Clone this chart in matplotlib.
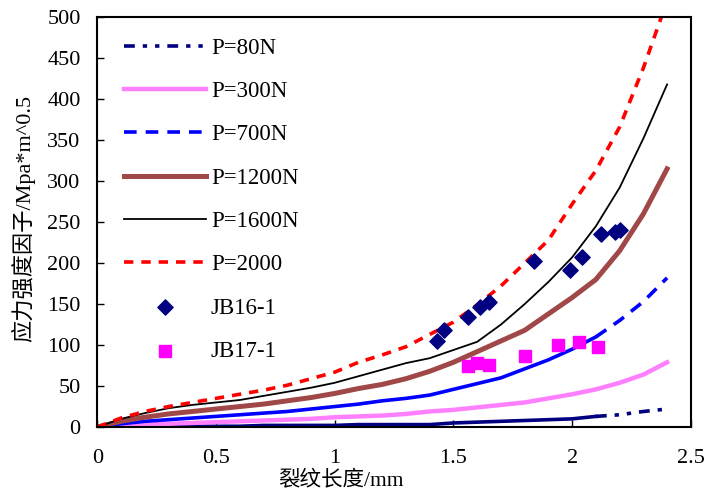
import matplotlib.pyplot as plt
import numpy as np

plt.rcParams['font.family'] = ['Liberation Serif', 'Noto Sans CJK SC']

# crack length (mm)
x = [0, 0.1, 0.2, 0.3, 0.4, 0.5, 0.6, 0.7, 0.8, 0.9, 1.0, 1.1, 1.2,
     1.3, 1.4, 1.5, 1.6, 1.7, 1.8, 1.9, 2.0, 2.1, 2.2, 2.3, 2.4]

# stress intensity factor for each load
k_80 = [0, 0, 0, 1, 1, 1, 1, 2, 2, 2, 2, 3, 3, 3, 3, 5, 6, 7, 8, 9, 10, 13, 15, 19, 22]
k_300 = [0, 2, 3, 4, 5, 6, 7, 8, 9, 10, 12, 13, 14, 16, 19, 21, 24, 27, 30, 35, 40, 46, 54, 64, 79]
k_700 = [0, 4, 7, 9, 11, 13, 15, 17, 19, 22, 25, 28, 32, 35, 39, 46, 53, 60, 71, 82, 95, 110, 130, 153, 182]
k_1200 = [0, 7, 12, 16, 19, 22, 25, 28, 32, 36, 41, 47, 52, 59, 68, 79, 92, 105, 118, 138, 158, 180, 215, 260, 315]
k_1600 = [0, 10, 17, 23, 27, 30, 33, 38, 43, 48, 54, 62, 70, 78, 84, 94, 104, 125, 150, 177, 207, 245, 292, 352, 418]
k_2000 = [0, 11, 19, 25, 30, 35, 40, 45, 51, 59, 67, 79, 88, 98, 113, 128, 149, 172, 200, 228, 272, 313, 366, 438, 520]

# test points
jb16_x = [1.43, 1.46, 1.56, 1.61, 1.65, 1.84, 1.99, 2.04, 2.12, 2.18, 2.20]
jb16_y = [105, 118, 134, 147, 153, 202, 191, 208, 236, 238, 241]
jb17_x = [1.56, 1.60, 1.65, 1.80, 1.94, 2.03, 2.11]
jb17_y = [74, 78, 76, 87, 100, 104, 98]

fig = plt.figure(figsize=(7.1, 4.92), dpi=100)
ax = fig.add_axes([0.137, 0.132, 0.836, 0.833])

xa = np.array(x)
head = xa <= 2.1
tail = xa >= 2.1

navy_dash = (0, (3.0, 2.2, 1.2, 2.2, 1.2, 2.2))
ax.plot(xa[head], np.array(k_80)[head], color='#000080', lw=2.6, label='_nolegend_')
ax.plot(xa[tail], np.array(k_80)[tail], color='#000080', lw=2.6, ls=navy_dash, label='P=80N')
ax.plot(x, k_300, color='#FF80FF', lw=3.2, label='P=300N')
ax.plot(xa[head], np.array(k_700)[head], color='#0000FF', lw=2.6, label='_nolegend_')
ax.plot(xa[tail], np.array(k_700)[tail], color='#0000FF', lw=2.6, ls=(0, (3.5, 2.5)), label='P=700N')
ax.plot(x, k_1200, color='#A04848', lw=3.6, label='P=1200N')
ax.plot(x, k_1600, color='black', lw=1.3, label='P=1600N')
ax.plot(x, k_2000, color='#FF0000', lw=2.6, ls=(0, (2.6, 2.2)), label='P=2000')
ax.scatter(jb16_x, jb16_y, marker='D', s=60, color='#000080', zorder=5, label='JB16-1')
ax.scatter(jb17_x, jb17_y, marker='s', s=70, color='#FF00FF', zorder=5, label='JB17-1')

ax.set_xlim(0, 2.5)
ax.set_ylim(0, 500)
ax.set_xticks([0, 0.5, 1, 1.5, 2, 2.5])
ax.set_xticklabels(['0', '0.5', '1', '1.5', '2', '2.5'])
ax.set_yticks(range(0, 501, 50))
ax.tick_params(direction='in', length=5, width=1, labelsize=16)
ax.tick_params(axis='x', pad=16)
ax.tick_params(axis='y', pad=12)
for s in ax.spines.values():
    s.set_linewidth(1.5)

ax.set_xlabel('裂纹长度/mm', fontsize=15.5)
ax.xaxis.set_label_coords(0.41, -0.107)
ax.set_ylabel('应力强度因子/Mpa*m^0.5', fontsize=16)
ax.yaxis.set_label_coords(-0.105, 0.51)

ax.legend(loc='upper left', bbox_to_anchor=(0.01, 1.0), frameon=False, fontsize=16.5,
          handlelength=3.6, labelspacing=0.97, handletextpad=0.2, scatterpoints=1)

fig.savefig('out.png', dpi=100)
